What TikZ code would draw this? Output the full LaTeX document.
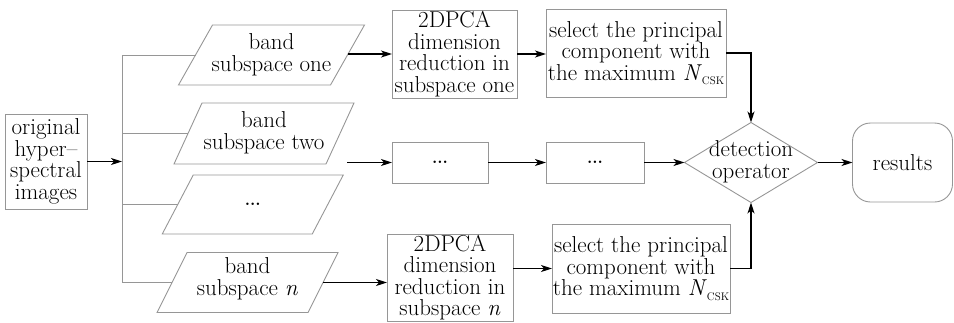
\documentclass[tikz,border=0pt]{standalone}
\usetikzlibrary{arrows.meta,shapes.geometric}
\definecolor{boxgray}{RGB}{150,150,150}
\newcommand\Ncsk{\textit{N}\raisebox{-0.45ex}{\fontsize{11}{11}\selectfont CSK}}
\newcommand\mydots{{\fontsize{17}{17}\selectfont\bfseries ...}}
\newcommand\myparabox[6]{% name, cx, cy, a, h, s
  \draw[gbox] (#2-#4+#6,#3-#5) -- (#2+#4+#6,#3-#5) -- (#2+#4-#6,#3+#5) -- (#2-#4-#6,#3+#5) -- cycle;
  \coordinate (#1w) at (#2-#4,#3);
  \coordinate (#1e) at (#2+#4,#3);
}
\begin{document}
\begin{tikzpicture}[x=1pt,y=-1pt,
  every node/.style={inner sep=0pt, outer sep=0pt, align=center, font=\fontsize{23}{21.5}\selectfont},
  gbox/.style={draw=boxgray, line width=0.9pt},
  gline/.style={draw=boxgray, line width=0.9pt},
  arr/.style={draw=black, line width=1.5pt, -{Stealth[length=11pt,width=7pt,inset=3pt]}},
]
\useasboundingbox (0,0) rectangle (954,322);

% left box
\node[gbox, minimum width=82, minimum height=95] (orig) at (46,161.5) {original\\hyper--\\spectral\\images};

% parallelograms
\myparabox{p1}{271.5}{55}{76}{30}{17}
\node (p1t) at (271.5,55) {band\\subspace one};
\myparabox{p2}{264}{133.5}{76}{30.5}{14}
\node (p2t) at (264,133) {band\\subspace two};
\myparabox{p3}{252.75}{204.5}{75}{29.5}{15.5}
\node (p3t) at (252.75,204) {\mydots};
\myparabox{p4}{247.5}{282.5}{75.5}{30}{15}
\node (p4t) at (247.5,279) {band\\subspace \textit{n}};

% boxes
\node[gbox, minimum width=125, minimum height=88] (d1) at (454.5,54) {2DPCA\\dimension\\reduction in\\subspace one};
\node[gbox, minimum width=180, minimum height=88] (s1) at (636,53) {select the principal\\component with\\the maximum \Ncsk};
\node[gbox, minimum width=96, minimum height=41] (e1) at (440,162.5) {\mydots};
\node[gbox, minimum width=98, minimum height=41] (e2) at (595,162.5) {\mydots};
\node[gbox, diamond, minimum width=133, minimum height=80] (det) at (751,162.5) {};
\node (dett) at (751,162) {detection\\operator};
\node[gbox, rounded corners=18pt, minimum width=100, minimum height=79] (res) at (902.5,162.5) {results};
\node[gbox, minimum width=126, minimum height=87] (d2) at (450,277.5) {2DPCA\\dimension\\reduction in\\subspace \textit{n}};
\node[gbox, minimum width=178, minimum height=89] (s2) at (641,268.5) {select the principal\\component with\\the maximum \Ncsk};

% bus
\coordinate (bus) at (122,162);
\draw[gline] (bus |- p1w) -- (bus |- p4w);
\draw[gline] (bus |- p1w) -- (p1w);
\draw[gline] (bus |- p2w) -- (p2w);
\draw[gline] (bus |- p3w) -- (p3w);
\draw[gline] (bus |- p4w) -- (p4w);
\draw[arr] (orig.east) -- (orig.east -| bus);

% arrows
\coordinate (a2s) at (347,162.5);
\draw[arr] (p1e |- d1.west) -- (d1.west);
\draw[arr] (a2s) -- (e1.west);
\draw[arr] (p4e) -- (p4e -| d2.west);
\draw[arr] (d1.east) -- (d1.east -| s1.west);
\draw[arr] (e1.east) -- (e2.west);
\draw[arr] (e2.east) -- (det.west);
\draw[arr] (d2.east |- s2.west) -- (s2.west);
\draw[arr] (s1.east) -| (det.north);
\draw[arr] (s2.east) -| (det.south);
\draw[arr] (det.east) -- (res.west);
\end{tikzpicture}
\end{document}
